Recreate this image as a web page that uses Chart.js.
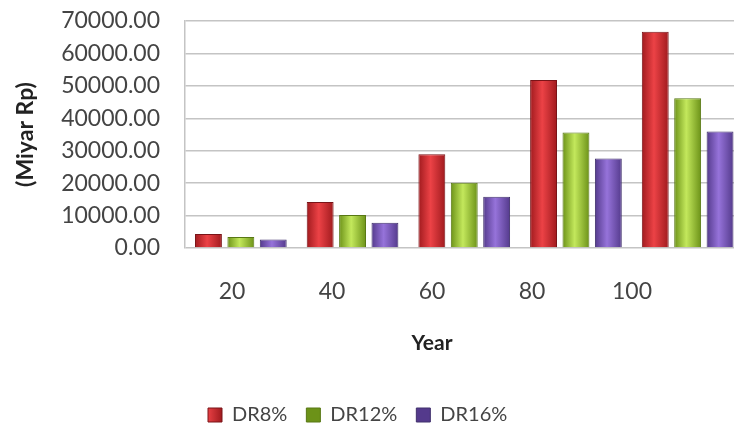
<!DOCTYPE html>
<html>
<head>
<meta charset="utf-8">
<script src="https://cdn.jsdelivr.net/npm/chart.js@4"></script>
<style>
  html, body { margin: 0; padding: 0; background: #fff; overflow: hidden; }
  canvas { display: block; }
</style>
</head>
<body>
<canvas id="c" width="750" height="428"></canvas>
<script>
// Categories (years) and series values, Miyar Rp
const years = ['20', '40', '60', '80', '100'];
const dr8  = [4300, 14200, 28900, 51800, 66700];
const dr12 = [3400, 10200, 20100, 35600, 46200];
const dr16 = [2600,  7800, 15800, 27600, 35900];
const seriesNames = ['DR8%', 'DR12%', 'DR16%'];

const CAT_PCT = 0.87;
const BAR_PCT = 0.83;
const FONT = 'Lato';

const palettes = [
  { edge: '#a01a1e', mid: '#ec4246', solid: '#c8323a', line: '#7a1418' },
  { edge: '#6c9218', mid: '#c3e85c', solid: '#96c03a', line: '#587814' },
  { edge: '#543a8c', mid: '#9673da', solid: '#7454b4', line: '#40306c' }
];

// Horizontal shading across each bar, giving it a rounded look
function barFill(ctx) {
  const p = palettes[ctx.datasetIndex];
  if (ctx.type !== 'data') return p.solid;
  const chart = ctx.chart;
  const xs = chart.scales.x;
  if (!xs || !xs.width) return p.solid;
  const cat = xs.width / years.length;
  const slot = cat * CAT_PCT / 3;
  const cx = xs.getPixelForValue(ctx.dataIndex) + (ctx.datasetIndex - 1) * slot;
  const half = slot * BAR_PCT / 2;
  const g = chart.ctx.createLinearGradient(cx - half, 0, cx + half, 0);
  g.addColorStop(0, p.edge);
  g.addColorStop(0.45, p.mid);
  g.addColorStop(1, p.edge);
  return g;
}

// Places the year-label axis and the legend after the layout pass
const placeBoxes = {
  id: 'placeBoxes',
  afterLayout(chart) {
    const xl = chart.scales.xl;
    xl.left = 182; xl.right = 682; xl.width = 500;
    xl.configure();
    const lg = chart.legend;
    lg.left = 189;
    lg.top = 386;
    lg.bottom = lg.top + lg.height;
  }
};

const values = [dr8, dr12, dr16];

new Chart(document.getElementById('c'), {
  type: 'bar',
  data: {
    labels: years,
    datasets: values.map((v, i) => ({
      label: seriesNames[i],
      data: v,
      xAxisID: 'x',
      yAxisID: 'y',
      backgroundColor: barFill,
      borderColor: palettes[i].line,
      borderWidth: 1,
      categoryPercentage: CAT_PCT,
      barPercentage: BAR_PCT
    }))
  },
  options: {
    responsive: false,
    devicePixelRatio: 1,
    animation: false,
    events: [],
    layout: { padding: { top: 21, right: 6.5, bottom: 23.5, left: 0 } },
    plugins: {
      tooltip: { enabled: false },
      legend: {
        position: 'bottom',
        align: 'start',
        labels: {
          boxWidth: 14,
          boxHeight: 14,
          padding: 19,
          color: '#444',
          font: { family: FONT, size: 20 }
        }
      }
    },
    scales: {
      x: {
        type: 'category',
        display: false,
        offset: true,
        grid: { offset: true }
      },
      xl: {
        type: 'category',
        labels: years,
        position: 'bottom',
        offset: true,
        grid: { display: false, drawTicks: false },
        border: { display: false },
        ticks: { padding: 30, color: '#444', font: { family: FONT, size: 23 } },
        title: {
          display: true,
          text: 'Year',
          color: '#222',
          font: { family: FONT, size: 21, weight: 'bold' },
          padding: { top: 0, bottom: 0 }
        },
        afterFit(s) { s.height = 107.5; }
      },
      y: {
        min: 0,
        max: 70000,
        ticks: {
          stepSize: 10000,
          autoSkip: false,
          padding: 7,
          color: '#444',
          font: { family: FONT, size: 23 },
          callback: v => Number(v).toFixed(2)
        },
        grid: {
          color: '#c4c4c4',
          lineWidth: 1.5,
          drawTicks: true,
          tickLength: 18,
          tickColor: 'rgba(0,0,0,0)'
        },
        border: { display: true, color: '#c4c4c4', width: 1.5 },
        title: {
          display: true,
          text: '(Miyar Rp)',
          color: '#222',
          font: { family: FONT, size: 23, weight: 'bold' },
          padding: { top: 12, bottom: 0 }
        },
        afterFit(s) { s.width = 185; }
      }
    }
  },
  plugins: [placeBoxes]
});
</script>
</body>
</html>
